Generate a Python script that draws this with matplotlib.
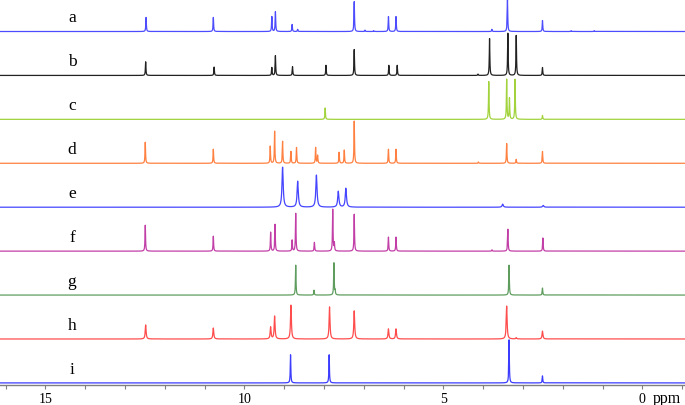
import numpy as np
import matplotlib
matplotlib.use("Agg")
import matplotlib.pyplot as plt
from matplotlib.ticker import MultipleLocator
from matplotlib.transforms import blended_transform_factory

# peak lists (ppm, relative height; 1.0 = spacing between traces)
labels = ["a", "b", "c", "d", "e", "f", "g", "h", "i"]
colors = ["#4d4dff", "#222222", "#a2d33c", "#ff8040", "#4545ff",
          "#c23fa8", "#5f9d5f", "#ff4d4d", "#3c3cff"]

pk_a = [12.47, 10.78, 9.31, 9.22, 8.80, 8.66, 7.24, 6.97, 6.75, 6.38, 6.19, 3.78, 3.39, 2.51, 1.79, 1.21]
ht_a = [0.32, 0.32, 0.34, 0.45, 0.16, 0.05, 0.68, 0.03, 0.02, 0.34, 0.34, 0.05, 0.72, 0.25, 0.02, 0.02]

pk_b = [12.48, 10.76, 9.31, 9.22, 8.79, 7.95, 7.24, 6.37, 6.16, 4.13, 3.84, 3.38, 3.17, 2.51]
ht_b = [0.31, 0.19, 0.18, 0.45, 0.20, 0.23, 0.59, 0.23, 0.23, 0.03, 0.84, 0.96, 0.91, 0.18]

pk_c = [7.97, 3.86, 3.41, 3.34, 3.20, 2.51]
ht_c = [0.26, 0.86, 0.91, 0.48, 0.91, 0.09]

pk_d = [12.49, 10.78, 9.35, 9.24, 9.04, 8.83, 8.69, 8.21, 8.16, 7.62, 7.49, 7.24, 6.38, 6.19, 4.12, 3.41, 3.17, 2.51]
ht_d = [0.48, 0.32, 0.39, 0.73, 0.50, 0.27, 0.36, 0.36, 0.18, 0.25, 0.30, 0.96, 0.32, 0.32, 0.03, 0.45, 0.09, 0.27]

pk_e = [9.04, 8.66, 8.19, 7.64, 7.45, 3.51, 2.49]
ht_e = [0.91, 0.59, 0.73, 0.36, 0.43, 0.07, 0.04]

pk_f = [12.49, 10.78, 9.34, 9.23, 8.80, 8.71, 8.24, 7.78, 7.74, 7.24, 6.38, 6.19, 3.78, 3.38, 2.50]
ht_f = [0.59, 0.34, 0.43, 0.61, 0.25, 0.86, 0.20, 0.95, 0.18, 0.84, 0.32, 0.32, 0.03, 0.50, 0.30]

pk_g = [8.71, 8.25, 7.75, 7.72, 3.35, 2.51]
ht_g = [0.68, 0.11, 0.73, 0.09, 0.68, 0.16]

pk_h = [12.48, 10.78, 9.34, 9.24, 8.83, 7.86, 7.24, 6.38, 6.19, 3.41, 3.17, 2.51]
ht_h = [0.32, 0.25, 0.27, 0.52, 0.77, 0.73, 0.64, 0.23, 0.23, 0.75, 0.03, 0.18]

pk_i = [8.84, 7.87, 3.35, 2.51]
ht_i = [0.64, 0.64, 0.98, 0.16]

peaks = [pk_a, pk_b, pk_c, pk_d, pk_e, pk_f, pk_g, pk_h, pk_i]
heights = [ht_a, ht_b, ht_c, ht_d, ht_e, ht_f, ht_g, ht_h, ht_i]
widths = [0.008, 0.008, 0.008, 0.008, 0.018, 0.008, 0.008, 0.013, 0.008]


def spectrum(x, pos, hts, w):
    y = np.zeros_like(x)
    for p, h in zip(pos, hts):
        y += h / (1 + ((x - p) / w) ** 2)
    return y


fig = plt.figure(figsize=(6.85, 4.06), dpi=100)
ax = fig.add_axes([0, 0.049, 1, 0.951])

x = np.linspace(-1.2, 16.3, 40000)
n = len(labels)
for k in range(n):
    off = n - 1 - k
    y = spectrum(x, peaks[k], heights[k], widths[k]) + off
    ax.plot(x, y, color=colors[k], lw=0.9, clip_on=False)
    ax.text(14.33, off + 0.32, labels[k], family="Liberation Serif",
            fontsize=12.5, ha="center", va="center")

ax.set_xlim(16.14, -1.07)
ax.set_ylim(-0.05, 8.74)

for s in ["top", "left", "right"]:
    ax.spines[s].set_visible(False)
ax.spines["bottom"].set_color("#808080")
ax.spines["bottom"].set_linewidth(1.0)
ax.set_yticks([])
ax.xaxis.set_major_locator(MultipleLocator(5))
ax.xaxis.set_minor_locator(MultipleLocator(1))
ax.tick_params(axis="x", which="both", direction="out", length=3,
               color="#808080", width=0.8, pad=2)
for t in ax.get_xticklabels():
    t.set_family("Liberation Serif")
    t.set_fontsize(10)

trans = blended_transform_factory(ax.transData, ax.transAxes)
ax.text(-0.25, -0.034, "ppm", transform=trans, family="Liberation Serif",
        fontsize=11.5, ha="left", va="center")

fig.savefig("out.png", dpi=100)
